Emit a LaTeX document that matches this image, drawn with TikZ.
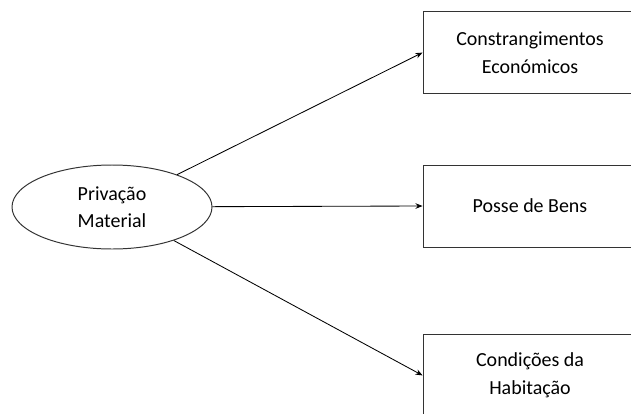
\documentclass[tikz,border=0pt]{standalone}
\usepackage{fontspec}
\setmainfont{Carlito}
\usetikzlibrary{positioning,shapes.geometric,arrows.meta}

\begin{document}
\begin{tikzpicture}[
		every node/.style={font=\fontsize{14.2}{19.5}\selectfont, align=center},
		factor/.style={draw=black!80, line width=0.7pt, minimum width=5.35cm, minimum height=2.05cm},
		latent/.style={ellipse, draw=black!80, line width=0.7pt, minimum width=5cm, minimum height=2.1cm, inner sep=0pt},
		link/.style={-{Stealth[length=5pt,width=4pt]}, line width=0.6pt}]
		% Frame
		\useasboundingbox (0, 0) rectangle (15.775, 10.325);
		
		% LEFT: latent variable
		\node[latent] (prv) at (2.8, 5.15) {Privação\\Material};
		
		% RIGHT: indicators
		\node[factor] (constr) at (13.25, 9.01) {Constrangimentos\\Económicos};
		\node[factor] (posse) at (13.25, 5.175) {Posse de Bens};
		\node[factor] (habit) at (13.25, 0.94) {Condições da\\Habitação};
		
		% Arrows
		\draw[link] (prv) -- (constr.west);
		\draw[link] (prv) -- (posse.west);
		\draw[link] (prv) -- (habit.west);
		
	\end{tikzpicture}
\end{document}
